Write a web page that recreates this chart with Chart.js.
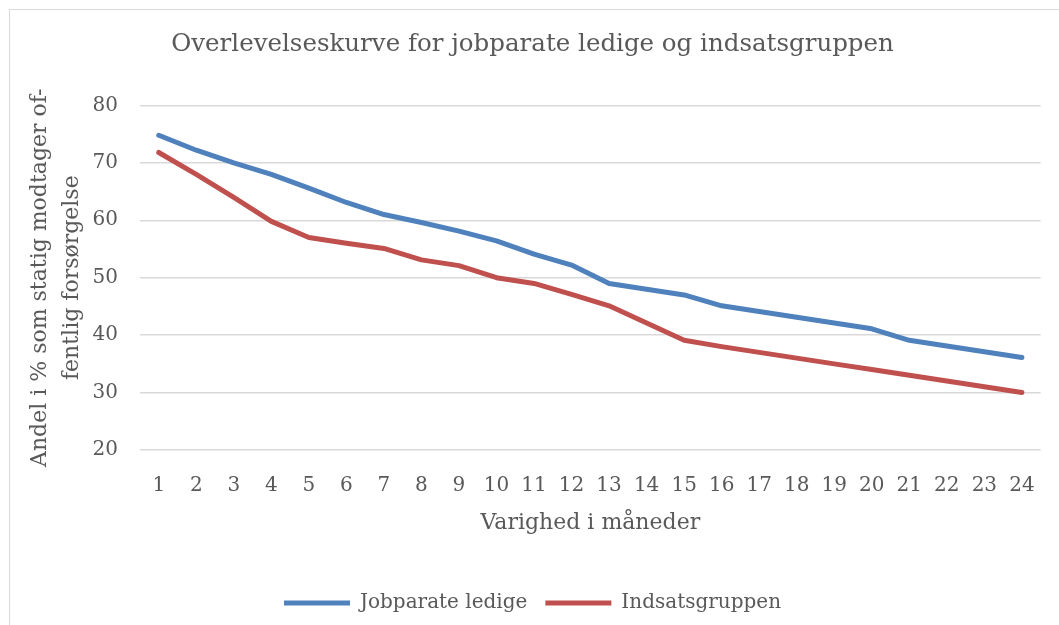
<!DOCTYPE html>
<html>
<head>
<meta charset="utf-8">
<script src="https://cdn.jsdelivr.net/npm/chart.js@4.4.1/dist/chart.umd.min.js"></script>
<style>
  html, body { margin: 0; padding: 0; background: #fff; }
  #wrap { width: 1059px; height: 625px; }
</style>
</head>
<body>
<div id="wrap"><canvas id="chart" width="1059" height="625"></canvas></div>
<script>
const maaneder = ['1','2','3','4','5','6','7','8','9','10','11','12','13','14','15','16','17','18','19','20','21','22','23','24'];
const jobparate = [74.8, 72.2, 70.0, 68.0, 65.6, 63.1, 61.0, 59.6, 58.1, 56.4, 54.1, 52.2, 49.0, 48.0, 47.0, 45.1, 44.1, 43.1, 42.1, 41.1, 39.1, 38.1, 37.1, 36.1];
const indsats = [71.8, 68.0, 64.0, 59.8, 57.0, 56.0, 55.1, 53.1, 52.1, 50.0, 49.0, 47.1, 45.1, 42.1, 39.1, 38.0, 37.0, 36.0, 35.0, 34.0, 33.0, 32.0, 31.0, 30.0];
const yMin = 20, yMax = 80, yStep = 10;

const tekst = '#595959';
const font = 'DejaVu Serif';

// light frame round the chart, like the spreadsheet chart box
const ramme = {
  id: 'ramme',
  beforeDraw(chart) {
    const ctx = chart.ctx;
    ctx.save();
    ctx.strokeStyle = '#d9d9d9';
    ctx.lineWidth = 1;
    ctx.strokeRect(9.5, 9.5, chart.width + 20, chart.height + 20);
    ctx.restore();
  }
};

const ctx = document.getElementById('chart').getContext('2d');
new Chart(ctx, {
  type: 'line',
  data: {
    labels: maaneder,
    datasets: [{
      label: 'Jobparate ledige',
      data: jobparate,
      borderColor: '#4f81bd',
      backgroundColor: '#4f81bd',
      borderWidth: 5,
      borderCapStyle: 'round',
      borderJoinStyle: 'round',
      pointRadius: 0,
      pointStyle: 'line',
      tension: 0
    }, {
      label: 'Indsatsgruppen',
      data: indsats,
      borderColor: '#c0504d',
      backgroundColor: '#c0504d',
      borderWidth: 5,
      borderCapStyle: 'round',
      borderJoinStyle: 'round',
      pointRadius: 0,
      pointStyle: 'line',
      tension: 0
    }]
  },
  options: {
    responsive: false,
    animation: false,
    layout: { padding: { left: 24, right: 18, top: 0, bottom: 2 } },
    plugins: {
      title: {
        display: true,
        text: 'Overlevelseskurve for jobparate ledige og indsatsgruppen',
        color: tekst,
        font: { family: font, size: 24.5, weight: 'normal', lineHeight: 1.2 },
        padding: { top: 30, bottom: 46 }
      },
      legend: {
        position: 'bottom',
        labels: {
          color: tekst,
          font: { family: font, size: 20 },
          usePointStyle: true,
          pointStyleWidth: 66,
          boxHeight: 5,
          padding: 18
        }
      },
      tooltip: { enabled: false }
    },
    scales: {
      x: {
        offset: true,
        grid: { display: false, drawTicks: false },
        border: { display: false },
        ticks: {
          color: tekst,
          font: { family: font, size: 20 },
          padding: 24,
          maxRotation: 0,
          autoSkip: false
        },
        title: {
          display: true,
          text: 'Varighed i måneder',
          color: tekst,
          font: { family: font, size: 22 },
          padding: { top: 0, bottom: 39 }
        },
        afterFit(scale) { scale.height = 125; }
      },
      y: {
        min: yMin,
        max: yMax,
        grid: { color: '#d9d9d9', lineWidth: 1.5, drawTicks: false },
        border: { display: false },
        ticks: {
          stepSize: yStep,
          color: tekst,
          font: { family: font, size: 20 },
          padding: 22
        },
        title: {
          display: true,
          text: ['Andel i % som statig modtager of-', 'fentlig forsørgelse'],
          color: tekst,
          font: { family: font, size: 22, lineHeight: 1.45 },
          padding: { top: 0, bottom: 0 }
        },
        afterFit(scale) { scale.width = 116; }
      }
    }
  },
  plugins: [ramme]
});
</script>
</body>
</html>
